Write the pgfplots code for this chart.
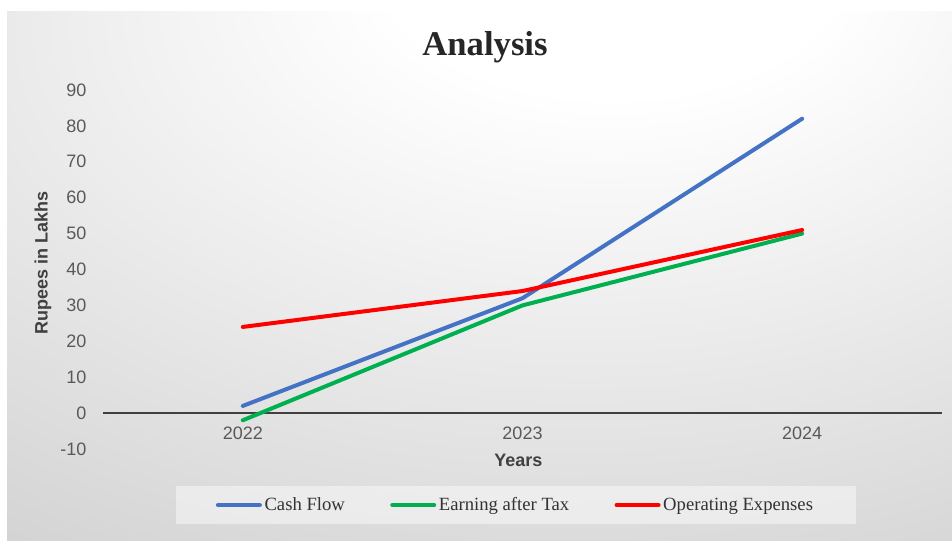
\documentclass[border=0pt]{standalone}
\usepackage{pgfplots}
\pgfplotsset{compat=1.18}
\usepackage{fontspec}
\setmainfont{Liberation Serif}
\setsansfont{Liberation Sans}

\definecolor{cfblue}{HTML}{4472C4}
\definecolor{eatgreen}{HTML}{00B050}
\definecolor{opred}{HTML}{FF0000}
\definecolor{ticktext}{HTML}{595959}
\definecolor{zeroline}{HTML}{404040}

% light centre near the title, grey towards the edges
\pgfdeclareradialshading{chartbg}{\pgfpoint{8bp}{33bp}}{%
  color(0bp)=(white); color(12bp)=(white); color(55bp)=(gray!38); color(100bp)=(gray!50)}

\begin{document}
\begin{tikzpicture}
  % ----- background (1px = 0.75pt) -----
  \begin{scope}[x=0.75pt, y=0.75pt]
    \path[use as bounding box] (0,0) rectangle (952,541);
    \fill[white] (0,0) rectangle (952,541);
    \shade[shading=chartbg] (7,0) rectangle (952,529);
    \node[font=\bfseries\fontsize{26}{30}\selectfont, text=black!85] at (485,494) {Analysis};
  \end{scope}

  \begin{axis}[
    at={(77.25pt,69pt)}, anchor=south west,
    scale only axis, width=629.25pt, height=269.25pt,
    xmin=-0.5, xmax=2.5, ymin=-10, ymax=90,
    axis x line=middle, axis y line=left,
    x axis line style={-, draw=zeroline, line width=2.1pt},
    y axis line style={draw=none},
    major tick length=0pt,
    xtick={0,1,2}, xticklabels={2022,2023,2024},
    ytick={-10,0,...,90},
    /pgf/number format/assume math mode=true,
    ticklabel style={font=\sffamily\fontsize{13.5}{16}\selectfont, text=ticktext},
    xticklabel style={yshift=-7pt},
    yticklabel style={xshift=-9pt},
    clip=false,
    legend columns=3,
    legend cell align=left,
    legend style={at={(0.492,-0.156)}, anchor=center,
      draw=none, fill=white, fill opacity=0.45, text opacity=1,
      inner xsep=30pt, inner ysep=6.5pt,
      font=\fontsize{14}{16}\selectfont, text=black!80,
      /tikz/every even column/.append style={column sep=32pt}},
    legend image code/.code={\draw[#1] (0pt,0pt) -- (31.5pt,0pt);},
    every axis plot/.append style={line width=3pt, line cap=round},
  ]
    \addplot[cfblue] coordinates {(0,2) (1,32) (2,82)};
    \addlegendentry{Cash Flow}
    \addplot[eatgreen] coordinates {(0,-2) (1,30) (2,50)};
    \addlegendentry{Earning after Tax}
    \addplot[opred] coordinates {(0,24) (1,34) (2,51)};
    \addlegendentry{Operating Expenses}

    \node[rotate=90, font=\sffamily\bfseries\fontsize{13.5}{16}\selectfont, text=zeroline]
      at ([xshift=-45pt]rel axis cs:0,0.518) {Rupees in Lakhs};
    \node[font=\sffamily\bfseries\fontsize{13.5}{16}\selectfont, text=zeroline]
      at ([yshift=-8.5pt]rel axis cs:0.495,0) {Years};
  \end{axis}
\end{tikzpicture}
\end{document}
